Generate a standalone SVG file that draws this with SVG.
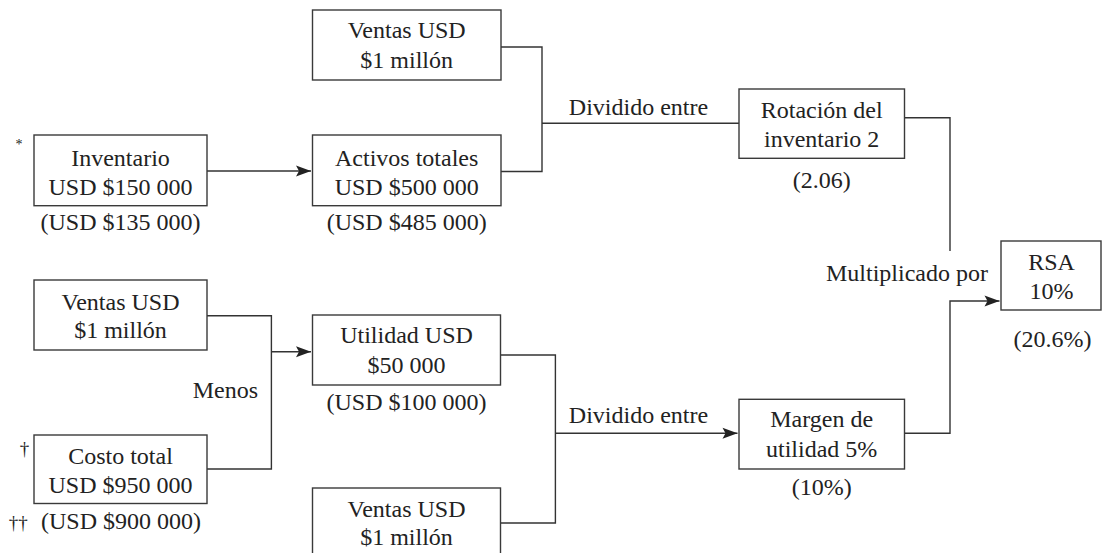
<svg xmlns="http://www.w3.org/2000/svg" width="1102" height="553" viewBox="0 0 1102 553">
  <defs>
    <marker id="arrow" markerUnits="userSpaceOnUse" markerWidth="18" markerHeight="14" viewBox="-16 -7 18 14" refX="0" refY="0" orient="auto">
      <path d="M0,0 L-15,-5.5 L-12,0 L-15,5.5 Z" fill="#222"/>
    </marker>
  </defs>
  <style>
    .box { fill: #fff; stroke: #3a3a3a; stroke-width: 1.4; }
    .wire { fill: none; stroke: #333; stroke-width: 1.4; }
    text { font-family: "Liberation Serif", "Times New Roman", serif; font-size: 24px; fill: #222; }
    .c { text-anchor: middle; }
    .star { font-size: 14px; }
    .dag { font-size: 19px; }
  </style>
  <rect width="1102" height="553" fill="#fff"/>

  <!-- connectors -->
  <g id="connectors">
    <path class="wire" d="M207,171 H311" marker-end="url(#arrow)"/>
    <path class="wire" d="M501,47 H542 V171.5 H501"/>
    <path class="wire" d="M542,123.3 H739"/>
    <path class="wire" d="M904.5,117.7 H950 V251"/>
    <path class="wire" d="M904.5,433.3 H950 V301 H999.5" marker-end="url(#arrow)"/>
    <path class="wire" d="M207,315.7 H271.4 V469 H207"/>
    <path class="wire" d="M271.4,351.7 H311" marker-end="url(#arrow)"/>
    <path class="wire" d="M500.5,355 H555.4 V523 H500.5"/>
    <path class="wire" d="M555.4,433.3 H737.5" marker-end="url(#arrow)"/>
    <text class="c" x="638.5" y="115">Dividido entre</text>
    <text class="c" x="638.5" y="423.3">Dividido entre</text>
    <text x="988" y="281" text-anchor="end">Multiplicado por</text>
    <text x="258" y="398.3" text-anchor="end">Menos</text>
  </g>

  <!-- top: sales -->
  <g id="ventas-top">
    <rect class="box" x="312.5" y="10" width="188.5" height="70"/>
    <text class="c" x="406.7" y="38.3">Ventas USD</text>
    <text class="c" x="406.7" y="68.3">$1 millón</text>
  </g>

  <!-- inventory -->
  <g id="inventario">
    <text class="star" x="19" y="149" text-anchor="middle">*</text>
    <rect class="box" x="34" y="135" width="173" height="70.7"/>
    <text class="c" x="120.5" y="165.7">Inventario</text>
    <text class="c" x="120.5" y="195">USD $150 000</text>
    <text class="c" x="120.5" y="230">(USD $135 000)</text>
  </g>

  <!-- total assets -->
  <g id="activos">
    <rect class="box" x="312.5" y="135" width="188.5" height="70.7"/>
    <text class="c" x="406.7" y="165.7">Activos totales</text>
    <text class="c" x="406.7" y="195">USD $500 000</text>
    <text class="c" x="406.7" y="230">(USD $485 000)</text>
  </g>

  <!-- inventory turnover -->
  <g id="rotacion">
    <rect class="box" x="739" y="89" width="165.5" height="69.3"/>
    <text class="c" x="821.7" y="118.3">Rotación del</text>
    <text class="c" x="821.7" y="146.7">inventario 2</text>
    <text class="c" x="821.7" y="188.3">(2.06)</text>
  </g>

  <!-- return on assets -->
  <g id="rsa">
    <rect class="box" x="1001" y="241" width="100" height="69"/>
    <text class="c" x="1051.5" y="270">RSA</text>
    <text class="c" x="1051.5" y="299">10%</text>
    <text class="c" x="1052.5" y="346.7">(20.6%)</text>
  </g>

  <!-- sales (left) -->
  <g id="ventas-left">
    <rect class="box" x="34" y="280" width="173" height="70"/>
    <text class="c" x="120.5" y="310">Ventas USD</text>
    <text class="c" x="120.5" y="338.3">$1 millón</text>
  </g>

  <!-- total cost -->
  <g id="costo">
    <text class="dag" x="24.5" y="455" text-anchor="middle">†</text>
    <rect class="box" x="34" y="435" width="173" height="68.5"/>
    <text class="c" x="120.5" y="464">Costo total</text>
    <text class="c" x="120.5" y="492.7">USD $950 000</text>
    <text class="dag" x="18.3" y="529" text-anchor="middle">††</text>
    <text class="c" x="121" y="529.3">(USD $900 000)</text>
  </g>

  <!-- profit -->
  <g id="utilidad">
    <rect class="box" x="312.5" y="315" width="188" height="70"/>
    <text class="c" x="406.5" y="343.3">Utilidad USD</text>
    <text class="c" x="406.5" y="373.3">$50 000</text>
    <text class="c" x="406.5" y="410">(USD $100 000)</text>
  </g>

  <!-- sales (bottom) -->
  <g id="ventas-bottom">
    <rect class="box" x="312.5" y="488" width="188" height="80"/>
    <text class="c" x="406.5" y="517.3">Ventas USD</text>
    <text class="c" x="406.5" y="545">$1 millón</text>
  </g>

  <!-- profit margin -->
  <g id="margen">
    <rect class="box" x="739" y="399.3" width="165.5" height="69.7"/>
    <text class="c" x="821.7" y="426.7">Margen de</text>
    <text class="c" x="821.7" y="456.7">utilidad 5%</text>
    <text class="c" x="821.7" y="495">(10%)</text>
  </g>
</svg>
